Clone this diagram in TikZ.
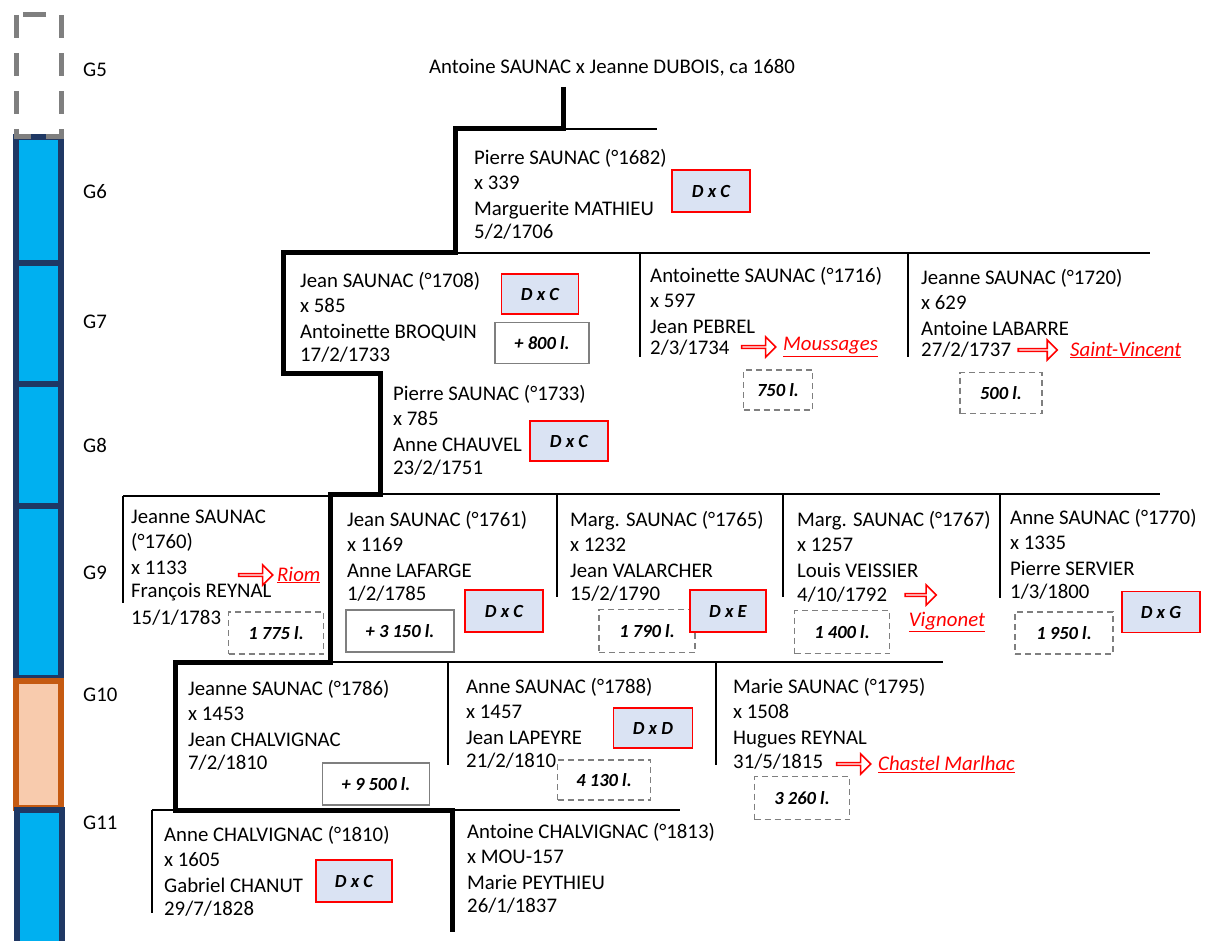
\documentclass[tikz,border=0pt]{standalone}
\usepackage{fontspec}
\setmainfont{Carlito}
\usetikzlibrary{shapes.arrows}
\definecolor{barblue}{HTML}{00B0F0}
\definecolor{barnavy}{HTML}{1F3864}
\definecolor{barpeach}{HTML}{F8CBAD}
\definecolor{barrust}{HTML}{C55A11}
\definecolor{dxfill}{HTML}{DAE3F3}
\definecolor{boxgray}{HTML}{7F7F7F}
\definecolor{red}{HTML}{FF0000}

\begin{document}
\begin{tikzpicture}[x=1pt,y=-1pt,
    person/.style={anchor=north west,inner sep=0pt,align=left,font=\fontsize{20.8}{25.5}\selectfont},
    gen/.style={anchor=west,inner sep=0pt,font=\fontsize{20.8}{25}\selectfont},
    mainline/.style={line width=5pt,line join=miter},
    sideline/.style={line width=2pt},
    dxbox/.style={draw=red,line width=1.5pt,fill=dxfill,inner sep=0pt,font=\fontsize{18.5}{20}\selectfont\bfseries\itshape},
    sumbox/.style={draw=boxgray,line width=1.8pt,fill=white,inner sep=0pt,font=\fontsize{18.5}{20}\selectfont\bfseries\itshape},
    dotbox/.style={draw=boxgray,line width=1.6pt,dash pattern=on 6pt off 4pt,inner sep=0pt,font=\fontsize{18.5}{20}\selectfont\bfseries\itshape},
    place/.style={inner sep=0pt,text=red,font=\fontsize{20.8}{25}\selectfont\itshape},
    redarrow/.style={shape=single arrow,draw=red,line width=1.6pt,fill=white,inner sep=0pt,
      minimum height=34pt,minimum width=20pt,single arrow head extend=5pt}]

\useasboundingbox (0,0) rectangle (1205,941);

% generation bar
\draw[barnavy,fill=barblue,line width=5.5pt] (16,137) rectangle (61,263);
\draw[barnavy,fill=barblue,line width=5.5pt] (16,263) rectangle (61,384);
\draw[barnavy,fill=barblue,line width=5.5pt] (16,384) rectangle (61,506);
\draw[barnavy,fill=barblue,line width=5.5pt] (16,506) rectangle (61,678);
\draw[barrust,fill=barpeach,line width=5.5pt] (16,681) rectangle (61,808);
\draw[barnavy,fill=barblue,line width=5.5pt] (17,810) rectangle (62,950);
\draw[boxgray,line width=5pt,dash pattern=on 23pt off 15pt] (16,15) rectangle (61,137);

\node[gen] (g5) at (83,70) {G5};
\node[gen] (g6) at (83,192) {G6};
\node[gen] (g7) at (83,322) {G7};
\node[gen] (g8) at (83,445) {G8};
\node[gen] (g9) at (83,573) {G9};
\node[gen] (g10) at (83,695) {G10};
\node[gen] (g11) at (83,823) {G11};

% tree
\coordinate (top) at (563,87);
\coordinate (k6) at (563,129);
\coordinate (a6) at (455,129);
\coordinate (e6) at (657,129);
\coordinate (b6) at (455,253);
\coordinate (a7) at (283,253);
\coordinate (e7) at (1150,253);
\coordinate (b7) at (283,373);
\coordinate (a8) at (380,373);
\coordinate (b8) at (380,494);
\coordinate (a9) at (330,494);
\coordinate (e9) at (1160,494);
\coordinate (l9) at (123,496);
\coordinate (b9) at (330,662);
\coordinate (a10) at (175,662);
\coordinate (e10) at (943,662);
\coordinate (b10) at (175,810);
\coordinate (l11) at (152,810);
\coordinate (m11) at (452,810);
\coordinate (e11) at (680,810);
\coordinate (f11) at (452,932);

\draw[sideline] (k6) -- (e6);
\draw[sideline] (b6) -- (e7);
\draw[sideline] (b8) -- (e9);
\draw[sideline] (l9) -- (l9 -| a9);
\draw[sideline] (b9) -- (e10);
\draw[sideline] (m11) -- (e11);
\draw[sideline] (b10) -- (l11);
\foreach \x/\y/\len in {640/253/104, 908/253/104, 123/496/107, 557/494/103, 783/494/103,
    1000/494/104, 448/662/103, 716/662/103, 152/810/103}
  \draw[sideline] (\x,\y) -- ++(0,\len);
\draw[mainline] (top) -- (k6) -- (a6) -- (b6) -- (a7) -- (b7) -- (a8) -- (b8)
  -- (a9) -- (b9) -- (a10) -- (b10) -- (m11) -- (f11);

% people
\node[gen,anchor=center] (g5couple) at (612,68) {Antoine SAUNAC x Jeanne DUBOIS, ca 1680};
\node[person] (p1682) at (474,146) {\strut Pierre SAUNAC (°1682)\\x 339\\Marguerite MATHIEU\\[-2pt]5/2/1706};
\node[person] (j1708) at (300,269) {\strut Jean SAUNAC (°1708)\\x 585\\Antoinette BROQUIN\\[-2pt]17/2/1733};
\node[person] (a1716) at (650,264) {\strut Antoinette SAUNAC (°1716)\\x 597\\Jean PEBREL\\[-4pt]2/3/1734};
\node[person] (j1720) at (921,266) {\strut Jeanne SAUNAC (°1720)\\x 629\\Antoine LABARRE\\[-4pt]27/2/1737};
\node[person] (p1733) at (393,382) {\strut Pierre SAUNAC (°1733)\\x 785\\Anne CHAUVEL\\[-2pt]23/2/1751};
\node[person] (j1760) at (131,505) {\strut Jeanne SAUNAC\\(°1760)\\x 1133\\[-2pt]François REYNAL\\[1pt]15/1/1783};
\node[person] (j1761) at (347,508) {\strut Jean SAUNAC (°1761)\\x 1169\\Anne LAFARGE\\[-2pt]1/2/1785};
\node[person] (m1765) at (570,508) {\strut Marg. SAUNAC (°1765)\\x 1232\\Jean VALARCHER\\[-2pt]15/2/1790};
\node[person] (m1767) at (797,508) {\strut Marg. SAUNAC (°1767)\\x 1257\\Louis VEISSIER\\[-1pt]4/10/1792};
\node[person] (a1770) at (1010,506) {\strut Anne SAUNAC (°1770)\\x 1335\\Pierre SERVIER\\[-2pt]1/3/1800};
\node[person] (j1786) at (188,677) {\strut Jeanne SAUNAC (°1786)\\x 1453\\Jean CHALVIGNAC\\[-2pt]7/2/1810};
\node[person] (a1788) at (466,675) {\strut Anne SAUNAC (°1788)\\x 1457\\Jean LAPEYRE\\[-2pt]21/2/1810};
\node[person] (m1795) at (733,675) {\strut Marie SAUNAC (°1795)\\x 1508\\Hugues REYNAL\\[-1pt]31/5/1815};
\node[person] (a1810) at (164,823) {\strut Anne CHALVIGNAC (°1810)\\x 1605\\Gabriel CHANUT\\[-2pt]29/7/1828};
\node[person] (a1813) at (467,820) {\strut Antoine CHALVIGNAC (°1813)\\x MOU-157\\Marie PEYTHIEU\\[-2pt]26/1/1837};

% dowries and marriage types
\node[dxbox,minimum width=78pt,minimum height=42pt] (dxc1) at (711,191) {D x C};
\node[dxbox,minimum width=77pt,minimum height=40pt] (dxc2) at (540,294) {D x C};
\node[sumbox,minimum width=94pt,minimum height=41pt] (s800) at (542,343) {+ 800 l.};
\node[dotbox,minimum width=69pt,minimum height=40pt] (d750) at (778,390) {750 l.};
\node[dotbox,minimum width=82pt,minimum height=41pt] (d500) at (1001,393) {500 l.};
\node[dxbox,minimum width=78pt,minimum height=40pt] (dxc3) at (569,441) {D x C};
\node[dotbox,minimum width=95pt,minimum height=42pt] (d1775) at (276,633) {1 775 l.};
\node[sumbox,minimum width=108pt,minimum height=42pt] (s3150) at (400,631) {+ 3 150 l.};
\node[dxbox,minimum width=78pt,minimum height=42pt] (dxc4) at (504,611) {D x C};
\node[dotbox,minimum width=96pt,minimum height=43pt] (d1790) at (647,631) {1 790 l.};
\node[dxbox,minimum width=76pt,minimum height=42pt] (dxe) at (728,611) {D x E};
\node[dotbox,minimum width=95pt,minimum height=43pt] (d1400) at (842,632) {1 400 l.};
\node[dotbox,minimum width=98pt,minimum height=42pt] (d1950) at (1064,633) {1 950 l.};
\node[dxbox,minimum width=78pt,minimum height=41pt] (dxg) at (1161,612) {D x G};
\node[sumbox,minimum width=107pt,minimum height=42pt] (s9500) at (376,784) {+ 9 500 l.};
\node[dxbox,minimum width=79pt,minimum height=40pt] (dxd) at (653,728) {D x D};
\node[dotbox,minimum width=93pt,minimum height=40pt] (d4130) at (604,780) {4 130 l.};
\node[dotbox,minimum width=95pt,minimum height=43pt] (d3260) at (802,798) {3 260 l.};
\node[dxbox,minimum width=76pt,minimum height=42pt] (dxc5) at (354,881) {D x C};

% moves
\node[redarrow] (mv1) at (758,347) {};
\node[place,anchor=west] (moussages) at (783,347) {\underline{Moussages}};
\node[redarrow,minimum height=39pt] (mv2) at (1037,350) {};
\node[place,anchor=west] (stvincent) at (1070,350) {\underline{Saint-Vincent}};
\node[redarrow] (mv3) at (255,575) {};
\node[place,anchor=west] (riom) at (277,575) {\underline{Riom}};
\node[redarrow,minimum height=31pt] (mv4) at (920,595) {};
\node[place] (vignonet) at (947,622) {\underline{Vignonet}};
\node[redarrow] (mv5) at (853,764) {};
\node[place,anchor=west] (chastel) at (878,764) {\underline{Chastel Marlhac}};

\end{tikzpicture}
\end{document}
